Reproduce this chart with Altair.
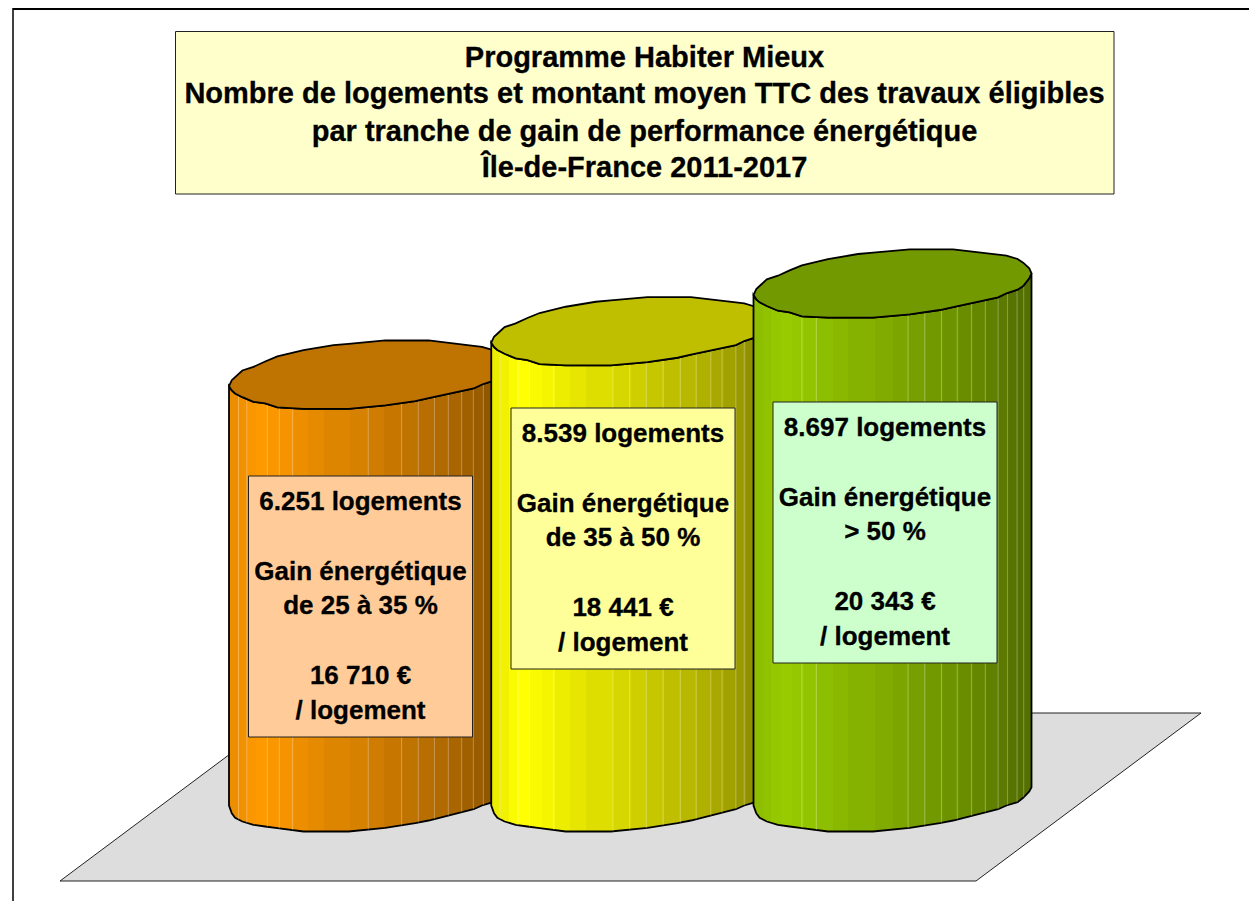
import altair as alt
import numpy as np
import pandas as pd

# ---- chart values ----
gains = ["de 25 à 35 %", "de 35 à 50 %", "> 50 %"]
logements = ["6.251", "8.539", "8.697"]
montants = [16710, 18441, 20343]
montants_txt = ["16 710 €", "18 441 €", "20 343 €"]
title_lines = [
    "Programme Habiter Mieux",
    "Nombre de logements et montant moyen TTC des travaux éligibles",
    "par tranche de gain de performance énergétique",
    "Île-de-France 2011-2017",
]
base_rgb = [(255, 153, 0), (255, 255, 0), (153, 204, 0)]
lid_shade = 0.75

# outline of a cylinder, as read: position across its width, rise of the lid's
# upper and lower edge and of the base edge (in picture pixels from the left corner)
across = [0, .010, .022, .048, .088, .130, .174, .268, .376, .430, .562, .670, .718, .880, .910, .950, .970, .992, 1]
lid_up = [0, 6, 9, 15.7, 19.3, 24.7, 29.7, 36, 41, 42.3, 45.7, 45.7, 45.7, 40.3, 39.3, 36, 32.3, 26.7, 21.7]
lid_lo = [0, -4.3, -7.3, -11, -15.7, -17.3, -21.3, -22.7, -22.7, -22.7, -19.3, -15, -12, -2.3, 1.7, 5.3, 9, 16.7, 21.7]
base_lo = [0, -7.7, -12.3, -16, -19.3, -21, -22.7, -26, -26, -26, -22.3, -17.7, -15, -3.7, 0, 3.3, 7.7, 14, 18.3]

band_edges = [0, .034, .064, .098, .138, .181, .229, .285, .341, .437, .501, .558, .621, .681, .739, .789, .837, .879, .915, .95, 1]
band_shade = [.93, .95, .98, 1, .98, .96, .93, .90, .87, .84, .81, .78, .75, .72, .69, .66, .63, .60, .57, .55]
seams = [
    [.034, .064, .138, .181, .229, .501, .621, .681, .739, .789, .837, .879, .915],
    [.032, .096, .138, .225, .438, .498, .558, .618, .68, .737, .79, .83, .88, .91],
    [.174, .226, .556, .616, .676, .733, .784, .834, .88, .914, .948, .972],
]

# ---- layout (page pixels) ----
W, H = 1241, 893
EUR_PER_PX = 39.85
CYL_W = 278 / 262.25
def X(px): return 1 + (px - 368) / 262.25
def Y(px): return (805.5 - px) * EUR_PER_PX

x_scale = alt.Scale(domain=[X(8), X(8 + W)], nice=False, zero=False)
y_scale = alt.Scale(domain=[Y(8 + H), Y(8)], nice=False, zero=False)
xq = alt.X("x:Q", scale=x_scale, axis=None)
yq = alt.Y("y:Q", scale=y_scale, axis=None)
y2 = alt.Y2("y2:Q")

layers = []

# frame
layers.append(alt.Chart(pd.DataFrame({"a": [0]})).mark_rule(color="black", strokeWidth=1.5).encode(
    x=alt.value(5), y=alt.value(0), y2=alt.value(H)))
layers.append(alt.Chart(pd.DataFrame({"a": [0]})).mark_rule(color="black", strokeWidth=2).encode(
    x=alt.value(5), x2=alt.value(W), y=alt.value(1)))

# floor
floor = pd.DataFrame({"y": [Y(713), Y(881)], "x": [X(285), X(60)], "x2": [X(1201), X(976)]})
layers.append(alt.Chart(floor).mark_area(orient="horizontal", color="#DDDDDD", stroke="#222222", strokeWidth=1).encode(
    y=yq, x=xq, x2="x2:Q"))

def shade(rgb, s):
    return "#%02X%02X%02X" % tuple(int(round(c * s)) for c in rgb)

a = np.array(across)
for i, (m, rgb) in enumerate(zip(montants, base_rgb)):
    left = (i + 1) - CYL_W / 2
    xs = left + a * CYL_W
    stops = []
    for j, s in enumerate(band_shade):
        c = shade(rgb, s)
        stops.append(alt.GradientStop(color=c, offset=band_edges[j]))
        stops.append(alt.GradientStop(color=c, offset=band_edges[j + 1]))
    grad = alt.LinearGradient(gradient="linear", stops=stops, x1=0, x2=1, y1=0, y2=0)
    body = pd.DataFrame({"x": xs,
                         "y": m + np.array(lid_lo) * EUR_PER_PX,
                         "y2": np.array(base_lo) * EUR_PER_PX})
    layers.append(alt.Chart(body).mark_area(color=grad, stroke="#000000", strokeWidth=1.8).encode(x=xq, y=yq, y2=y2))
    sx = np.array(seams[i])
    sd = pd.DataFrame({"x": left + sx * CYL_W,
                       "y": m + np.interp(sx, across, lid_lo) * EUR_PER_PX,
                       "y2": np.interp(sx, across, base_lo) * EUR_PER_PX})
    layers.append(alt.Chart(sd).mark_rule(color="white", opacity=0.3, strokeWidth=1).encode(x=xq, y=yq, y2=y2))
    lid = pd.DataFrame({"x": xs,
                        "y": m + np.array(lid_up) * EUR_PER_PX,
                        "y2": m + np.array(lid_lo) * EUR_PER_PX})
    layers.append(alt.Chart(lid).mark_area(color=shade(rgb, lid_shade), stroke="#000000", strokeWidth=1.8).encode(x=xq, y=yq, y2=y2))

# title box
tb = pd.DataFrame({"x": [X(175.5)], "x2": [X(1114)], "y": [Y(31.5)], "y2": [Y(194)]})
layers.append(alt.Chart(tb).mark_rect(color="#FFFFCC", stroke="#222222", strokeWidth=1).encode(x=xq, x2="x2:Q", y=yq, y2=y2))
tt = pd.DataFrame({"t": title_lines, "x": X(644.5), "y": [Y(p) for p in (58, 94, 132, 168)]})
layers.append(alt.Chart(tt).mark_text(font="Liberation Sans", fontWeight="bold", fontSize=29, color="black",
                                      stroke="black", strokeWidth=0.3, baseline="middle", align="center").encode(
    x=xq, y=yq, text="t:N"))

# callouts
box_left = [248.5, 511, 773]
box_top = [476, 408, 402]
box_fill = ["#FFCC99", "#FFFF99", "#CCFFCC"]
line_dy = [26, 96, 130, 200, 235]
for i in range(3):
    l, t = box_left[i], box_top[i]
    bd = pd.DataFrame({"x": [X(l)], "x2": [X(l + 224)], "y": [Y(t)], "y2": [Y(t + 261)]})
    layers.append(alt.Chart(bd).mark_rect(color=box_fill[i], stroke="#222222", strokeWidth=1).encode(x=xq, x2="x2:Q", y=yq, y2=y2))
    lines = [logements[i] + " logements", "Gain énergétique", gains[i], montants_txt[i], "/ logement"]
    td = pd.DataFrame({"t": lines, "x": X(l + 112), "y": [Y(t + d) for d in line_dy]})
    layers.append(alt.Chart(td).mark_text(font="Liberation Sans", fontWeight="bold", fontSize=26, color="black",
                                          stroke="black", strokeWidth=0.3, baseline="middle", align="center").encode(
        x=xq, y=yq, text="t:N"))

chart = alt.layer(*layers).properties(
    width=W, height=H, padding=0, autosize=alt.AutoSizeParams(type="none"), background="white"
).configure_view(stroke=None)

chart.save("out.html", embed_options={"renderer": "svg", "actions": False})
